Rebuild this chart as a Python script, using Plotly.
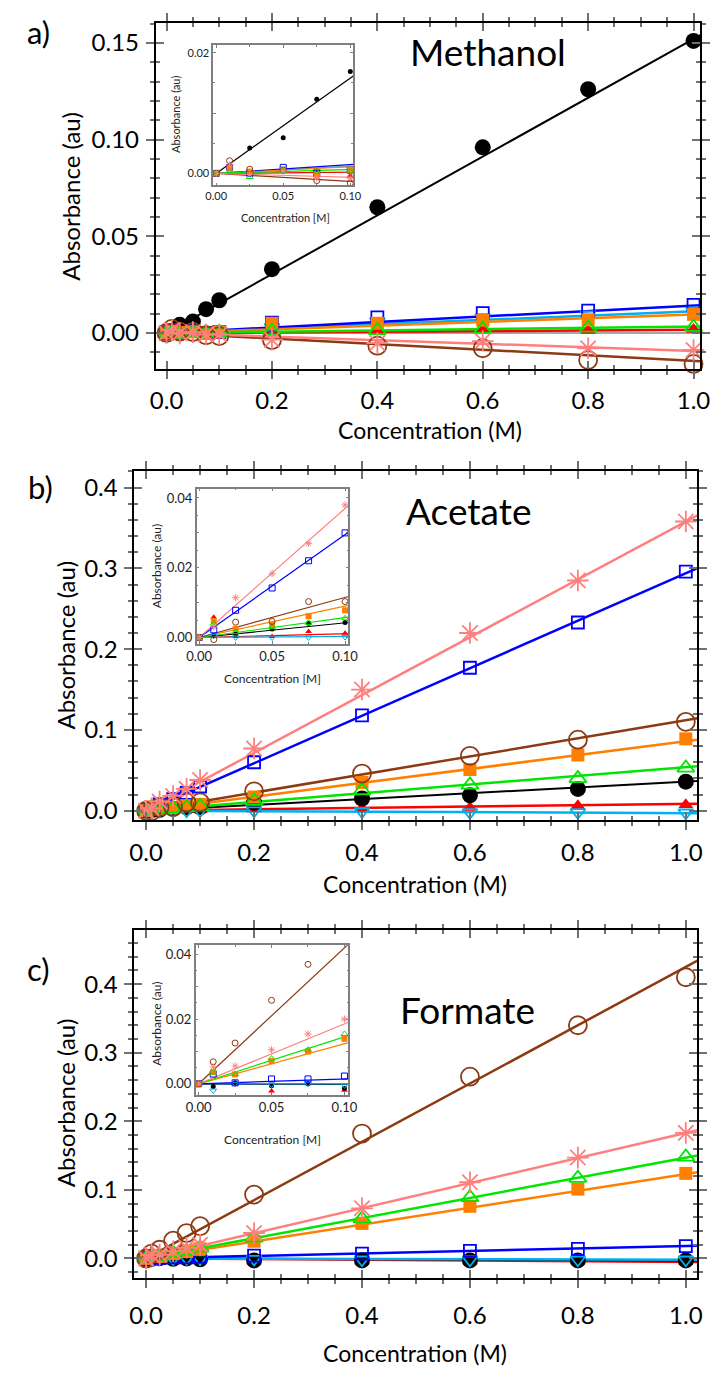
import plotly.graph_objects as go

W, H = 724, 1373
FONT = "Lato, 'Open Sans', sans-serif"

# ---------------- data ----------------
conc = [0, 0.01, 0.025, 0.05, 0.075, 0.1, 0.2, 0.4, 0.6, 0.8, 1.0]
series = ["red", "black", "cyan", "blue", "orange", "green", "brown", "pink"]

# a) Methanol
meth_red    = [0, 0.0012, 0.0002, 0.0005, 0.0004, -0.0004, 0.0005, 0.0012, 0.0015, 0.0013, 0.0018]
meth_black  = [0, 0.0010, 0.0042, 0.0059, 0.0123, 0.0169, 0.033, 0.065, 0.096, 0.126, 0.151]
meth_cyan   = [0, 0.0005, 0.0003, 0.0008, 0.0004, 0.0008, 0.003, 0.006, 0.008, 0.0095, 0.0115]
meth_blue   = [0, 0.0010, 0.0000, 0.0010, 0.0000, 0.0005, 0.0053, 0.0081, 0.0103, 0.0115, 0.0145]
meth_orange = [0, 0.0008, 0.0003, 0.0006, -0.0002, 0.0006, 0.0050, 0.0050, 0.0066, 0.0068, 0.0096]
meth_green  = [0, 0.0003, -0.0006, 0.0004, 0.0003, 0.0003, 0.0010, 0.0013, 0.0020, 0.0026, 0.0030]
meth_brown  = [0, 0.0021, 0.0007, 0.0005, -0.0012, -0.0016, -0.0037, -0.0066, -0.0079, -0.0140, -0.0160]
meth_pink   = [0, 0.0014, -0.0002, 0.0004, -0.0008, -0.0008, -0.0035, -0.0052, -0.0042, -0.0079, -0.0088]
meth_fit_main  = [0.0016, 0.152, 0.0112, 0.0142, 0.0095, 0.0033, -0.0145, -0.0093]
meth_fit_inset = [0.002, 0.158, 0.012, 0.0145, 0.011, 0.0065, -0.0135, -0.0065]

# b) Acetate
acet_red    = [0, 0.0058, 0.0003, 0.0003, 0.0017, 0.0012, 0.002, 0.003, 0.004, 0.006, 0.0074]
acet_black  = [0, 0.0005, 0.0010, 0.0024, 0.0041, 0.0043, 0.010, 0.015, 0.019, 0.027, 0.036]
acet_cyan   = [0, 0.0005, 0.0000, 0.0000, 0.0000, 0.0001, 0.000, -0.001, -0.002, -0.002, -0.0025]
acet_blue   = [0, 0.0022, 0.0078, 0.0142, 0.0220, 0.0300, 0.060, 0.118, 0.177, 0.233, 0.296]
acet_orange = [0, 0.0047, 0.0025, 0.0036, 0.0061, 0.0078, 0.017, 0.035, 0.051, 0.069, 0.089]
acet_green  = [0, 0.0040, 0.0015, 0.0030, 0.0042, 0.0055, 0.012, 0.025, 0.032, 0.040, 0.053]
acet_brown  = [0, -0.0006, 0.0044, 0.0046, 0.0103, 0.0103, 0.024, 0.046, 0.068, 0.088, 0.110]
acet_pink   = [0, 0.0030, 0.0114, 0.0183, 0.0270, 0.0380, 0.077, 0.150, 0.220, 0.285, 0.358]
acet_fit_main  = [0.0085, 0.036, -0.003, 0.294, 0.086, 0.054, 0.112, 0.358]
acet_fit_inset = [0.011, 0.042, 0.003, 0.295, 0.090, 0.057, 0.115, 0.370]

# c) Formate
form_red    = [0, -0.0038, 0.0000, -0.0022, 0.0000, -0.0020, -0.004, -0.004, -0.004, -0.004, -0.005]
form_black  = [0, -0.0008, 0.0003, -0.0006, 0.0000, -0.0014, -0.003, -0.003, -0.003, -0.003, -0.003]
form_cyan   = [0, -0.0021, 0.0000, -0.0003, 0.0000, -0.0005, -0.001, -0.002, -0.002, -0.002, -0.002]
form_blue   = [0, 0.0030, 0.0003, 0.0015, 0.0015, 0.0024, 0.004, 0.007, 0.011, 0.014, 0.018]
form_orange = [0, 0.0036, 0.0029, 0.0070, 0.0100, 0.0139, 0.025, 0.051, 0.076, 0.101, 0.124]
form_green  = [0, 0.0035, 0.0030, 0.0078, 0.0105, 0.0154, 0.030, 0.058, 0.089, 0.117, 0.148]
form_brown  = [0, 0.0068, 0.0126, 0.0258, 0.0369, 0.047, 0.093, 0.182, 0.265, 0.340, 0.410]
form_pink   = [0, 0.0052, 0.0055, 0.0105, 0.0154, 0.0200, 0.037, 0.073, 0.111, 0.147, 0.183]
form_fit_main  = [-0.005, -0.003, -0.002, 0.018, 0.123, 0.147, 0.425, 0.183]
form_fit_inset = [-0.002, -0.002, 0.000, 0.015, 0.124, 0.145, 0.420, 0.185]

panels_data = [
    [meth_red, meth_black, meth_cyan, meth_blue, meth_orange, meth_green, meth_brown, meth_pink],
    [acet_red, acet_black, acet_cyan, acet_blue, acet_orange, acet_green, acet_brown, acet_pink],
    [form_red, form_black, form_cyan, form_blue, form_orange, form_green, form_brown, form_pink],
]
panels_fit_main = [meth_fit_main, acet_fit_main, form_fit_main]
panels_fit_inset = [meth_fit_inset, acet_fit_inset, form_fit_inset]
panel_titles = ["Methanol", "Acetate", "Formate"]
panel_letters = ["a)", "b)", "c)"]

# ---------------- styles ----------------
STY = {
    "black":  dict(color="#000000", symbol="circle", size=16, lw=2.0),
    "cyan":   dict(color="#00B0F0", symbol="triangle-down-open", size=13, lw=2.5),
    "blue":   dict(color="#0000FF", symbol="square-open", size=12, lw=2.5),
    "orange": dict(color="#FF8000", symbol="square", size=13, lw=2.5),
    "red":    dict(color="#FF0000", symbol="triangle-up", size=13, lw=2.5),
    "green":  dict(color="#00E600", symbol="triangle-up-open", size=15, lw=2.5),
    "brown":  dict(color="#8B3A12", symbol="circle-open", size=18, lw=2.5),
    "pink":   dict(color="#FF7F7F", symbol="asterisk-open", size=18, lw=2.5),
}

# geometry in pixels (left, right, top, bottom) and value ranges
MAIN = [
    dict(px=(150, 710, 23, 370), xr=[-0.0203, 1.013], yr=[-0.0186, 0.1603], ydt=0.05, ymin=0.01,
         yfmt=".2f", so=1),
    dict(px=(128, 707, 472, 822), xr=[-0.0216, 1.0216], yr=[-0.011, 0.421], ydt=0.1, ymin=0.02,
         yfmt=".1f", so=3),
    dict(px=(128, 707, 933, 1282), xr=[-0.0216, 1.0216], yr=[-0.029, 0.4785], ydt=0.1, ymin=0.02,
         yfmt=".1f", so=7),
]
INSET = [
    dict(px=(209, 353, 45, 186), xr=[-0.0022, 0.1022], yr=[-0.0020, 0.0213],
         yt=[0, 0.01, 0.02], ytt=["0.00", "", "0.02"], fs=11),
    dict(px=(192, 348, 490, 646), xr=[-0.0017, 0.1023], yr=[-0.0019, 0.0427],
         yt=[0, 0.01, 0.02, 0.03, 0.04], ytt=["0.00", "", "0.02", "", "0.04"], fs=13),
    dict(px=(191, 348, 948, 1098), xr=[-0.0020, 0.1027], yr=[-0.0034, 0.0428],
         yt=[0, 0.01, 0.02, 0.03, 0.04], ytt=["0.00", "", "0.02", "", "0.04"], fs=13),
]
TEXTPOS = [
    dict(letter=(29, 32), title=(492, 52), xt=(432, 431), yt=(62, 197),
         ixt=(283, 218), iyt=(170, 115), ifs=11),
    dict(letter=(31, 488), title=(472, 512), xt=(417, 887), yt=(57, 647),
         ixt=(270, 680), iyt=(150, 568), ifs=12),
    dict(letter=(29, 972), title=(470, 1012), xt=(417, 1357), yt=(57, 1106),
         ixt=(270, 1143), iyt=(150, 1027), ifs=12),
]

TC = "#707070"
fig = go.Figure()


def xd(l, r):
    return [l / W, r / W]


def yd(t, b):
    return [1 - b / H, 1 - t / H]


def px2paper(x, y):
    return x / W, 1 - y / H


layout = dict(width=W, height=H, margin=dict(l=0, r=0, t=0, b=0),
              paper_bgcolor="white", plot_bgcolor="white", showlegend=False,
              font=dict(family=FONT, color="black"))
annotations = []

for p in range(3):
    m = MAIN[p]
    ins = INSET[p]
    l, r, t, b = m["px"]
    main_id = p + 1
    ov_id = p + 4
    in_id = p + 7
    xa = "x" if main_id == 1 else f"x{main_id}"
    ya = "y" if main_id == 1 else f"y{main_id}"

    # main axes
    layout[f"xaxis{main_id}" if main_id > 1 else "xaxis"] = dict(
        domain=xd(l, r), anchor=ya, range=m["xr"], tick0=0, dtick=0.2, tickformat=".1f",
        ticks="outside", ticklen=8, tickwidth=2, tickcolor=TC, ticklabelstandoff=m["so"],
        minor=dict(tick0=0, dtick=0.05, ticks="outside", ticklen=4, tickwidth=1.5, tickcolor=TC, showgrid=False),
        showline=True, linecolor="black", linewidth=2, mirror="ticks",
        showgrid=False, zeroline=False, tickfont=dict(size=24, family=FONT, color="black"))
    layout[f"yaxis{main_id}" if main_id > 1 else "yaxis"] = dict(
        domain=yd(t, b), anchor=xa, range=m["yr"], tick0=0, dtick=m["ydt"], tickformat=m["yfmt"],
        ticks="outside", ticklen=8, tickwidth=2, tickcolor=TC, ticklabelstandoff=2,
        minor=dict(tick0=0, dtick=m["ymin"], ticks="outside", ticklen=4, tickwidth=1.5, tickcolor=TC, showgrid=False),
        showline=True, linecolor="black", linewidth=2, mirror="ticks",
        showgrid=False, zeroline=(p == 0), zerolinecolor="#A6A6A6", zerolinewidth=1.5,
        tickfont=dict(size=24, family=FONT, color="black"))
    # overlay axes for the inner half of crossing ticks
    layout[f"xaxis{ov_id}"] = dict(
        overlaying=xa, anchor=f"y{ov_id}", range=m["xr"], tick0=0, dtick=0.2,
        ticks="inside", ticklen=8, tickwidth=2, tickcolor=TC,
        minor=dict(tick0=0, dtick=0.05, ticks="inside", ticklen=4, tickwidth=1.5, tickcolor=TC, showgrid=False),
        showline=False, mirror="ticks", showticklabels=False, showgrid=False, zeroline=False)
    layout[f"yaxis{ov_id}"] = dict(
        overlaying=ya, anchor=f"x{ov_id}", range=m["yr"], tick0=0, dtick=m["ydt"],
        ticks="inside", ticklen=8, tickwidth=2, tickcolor=TC,
        minor=dict(tick0=0, dtick=m["ymin"], ticks="inside", ticklen=4, tickwidth=1.5, tickcolor=TC, showgrid=False),
        showline=False, mirror="ticks", showticklabels=False, showgrid=False, zeroline=False)
    fig.add_trace(go.Scatter(x=[None], y=[None], xaxis=f"x{ov_id}", yaxis=f"y{ov_id}",
                             mode="markers", hoverinfo="skip", showlegend=False))

    # inset axes
    il, ir, it, ib = ins["px"]
    layout[f"xaxis{in_id}"] = dict(
        domain=xd(il, ir), anchor=f"y{in_id}", range=ins["xr"],
        tickvals=[0, 0.05, 0.1], ticktext=["0.00", "0.05", "0.10"],
        ticks="inside", ticklen=3, tickwidth=1, tickcolor="#7F7F7F",
        minor=dict(tick0=0, dtick=0.025, ticks="inside", ticklen=2, tickwidth=1, tickcolor="#7F7F7F", showgrid=False),
        showline=True, linecolor="#7F7F7F", linewidth=1.5, mirror="ticks",
        showgrid=False, zeroline=False, tickfont=dict(size=ins["fs"], family=FONT, color="#222"))
    layout[f"yaxis{in_id}"] = dict(
        domain=yd(it, ib), anchor=f"x{in_id}", range=ins["yr"],
        tickvals=ins["yt"], ticktext=ins["ytt"],
        ticks="inside", ticklen=3, tickwidth=1, tickcolor="#7F7F7F",
        minor=dict(tick0=0, dtick=0.005, ticks="inside", ticklen=2, tickwidth=1, tickcolor="#7F7F7F", showgrid=False),
        showline=True, linecolor="#7F7F7F", linewidth=1.5, mirror="ticks",
        showgrid=False, zeroline=False, tickfont=dict(size=ins["fs"], family=FONT, color="#222"))

    data = panels_data[p]
    fits_m = panels_fit_main[p]
    fits_i = panels_fit_inset[p]
    for k, name in enumerate(series):
        s = STY[name]
        xl = [0, m["xr"][1]]
        fig.add_trace(go.Scatter(x=xl, y=[fits_m[k] * v for v in xl], mode="lines",
                                 line=dict(color=s["color"], width=s["lw"]),
                                 xaxis=xa, yaxis=ya, hoverinfo="skip", showlegend=False))
        xi = [0, ins["xr"][1]]
        fig.add_trace(go.Scatter(x=xi, y=[fits_i[k] * v for v in xi], mode="lines",
                                 line=dict(color=s["color"], width=1.2),
                                 xaxis=f"x{in_id}", yaxis=f"y{in_id}", hoverinfo="skip", showlegend=False))
    for k, name in enumerate(series):
        s = STY[name]
        is_open = "open" in s["symbol"]
        fig.add_trace(go.Scatter(x=conc, y=data[k], mode="markers", cliponaxis=False,
                                 marker=dict(symbol=s["symbol"], size=s["size"], color=s["color"],
                                             line=dict(color=s["color"], width=1.8 if is_open else 0)),
                                 xaxis=xa, yaxis=ya, showlegend=False))
        fig.add_trace(go.Scatter(x=conc[:6], y=data[k][:6], mode="markers", cliponaxis=False,
                                 marker=dict(symbol=s["symbol"], size=6 if name != "black" else 5,
                                             color=s["color"],
                                             line=dict(color=s["color"], width=1 if is_open else 0)),
                                 xaxis=f"x{in_id}", yaxis=f"y{in_id}", showlegend=False))

    tp = TEXTPOS[p]

    def ann(text, pos, size, angle=0, color="black"):
        x, y = px2paper(*pos)
        annotations.append(dict(text=text, x=x, y=y, xref="paper", yref="paper",
                                xanchor="center", yanchor="middle", showarrow=False,
                                textangle=angle, font=dict(size=size, family=FONT, color=color)))
    ann(panel_letters[p], tp["letter"], 31)
    ann(panel_titles[p], tp["title"], 37)
    ann("Concentration (M)", tp["xt"], 23)
    ann("Absorbance (au)", tp["yt"], 24, angle=-90)
    ann("Concentration [M]", tp["ixt"], tp["ifs"], color="#222")
    ann("Absorbance (au)", tp["iyt"], tp["ifs"], angle=-90, color="#222")

layout["annotations"] = annotations
fig.update_layout(**layout)
fig.write_html("out.html")
